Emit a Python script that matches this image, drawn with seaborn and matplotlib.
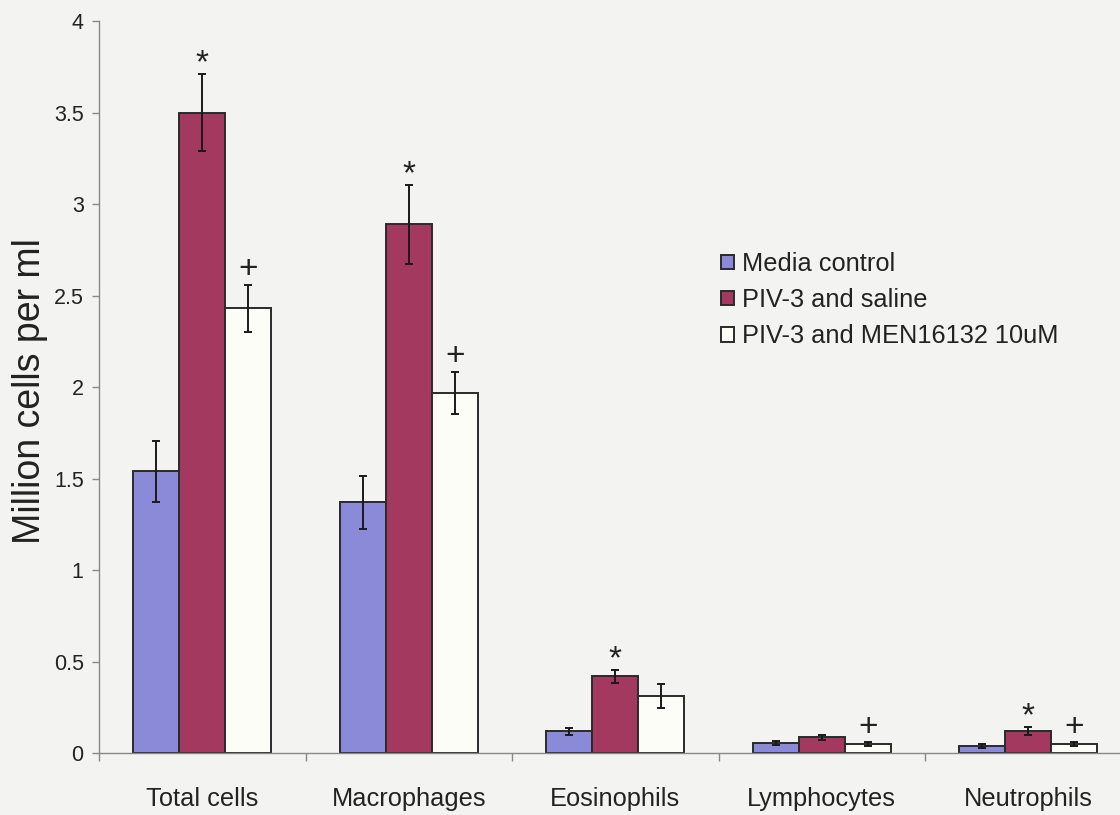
import numpy as np
import pandas as pd
import matplotlib
matplotlib.use("Agg")
import matplotlib.pyplot as plt
import seaborn as sns

# ---------- data ----------
categories = ["Total cells", "Macrophages", "Eosinophils", "Lymphocytes", "Neutrophils"]
groups = ["Media control", "PIV-3 and saline", "PIV-3 and MEN16132 10uM"]

media_mean = [1.54, 1.37, 0.12, 0.055, 0.04]
media_sem = [0.165, 0.145, 0.02, 0.01, 0.01]
saline_mean = [3.50, 2.89, 0.42, 0.087, 0.122]
saline_sem = [0.21, 0.215, 0.035, 0.012, 0.02]
men_mean = [2.43, 1.97, 0.315, 0.05, 0.05]
men_sem = [0.13, 0.115, 0.065, 0.01, 0.01]

saline_marks = ["*", "*", "*", "", "*"]
men_marks = ["+", "+", "", "+", "+"]

colors = ["#8a8ad8", "#a3395f", "#fdfdf8"]
BG = "#f3f3f1"
INK = "#222222"

sns.set_style("ticks")
plt.rcParams["font.family"] = ["Liberation Sans", "DejaVu Sans"]

df = pd.DataFrame({
    "cell": categories * 3,
    "group": [g for g in groups for _ in categories],
    "value": media_mean + saline_mean + men_mean,
})
sems = [media_sem, saline_sem, men_sem]
marks = [[""] * len(categories), saline_marks, men_marks]

fig = plt.figure(figsize=(11.2, 8.15), dpi=100, facecolor=BG)
ax = fig.add_axes([99 / 1120, (815 - 753.3) / 815, 1032.5 / 1120, 732.3 / 815])
ax.set_facecolor(BG)

sns.barplot(data=df, x="cell", y="value", hue="group", order=categories,
            hue_order=groups, palette=colors, width=0.668, gap=0,
            errorbar=None, edgecolor="#2a2a2a", linewidth=1.4, saturation=1,
            ax=ax)

# error bars + significance marks
for cont, s, mk in zip(ax.containers, sems, marks):
    xs = [p.get_x() + p.get_width() / 2 for p in cont.patches]
    hs = [p.get_height() for p in cont.patches]
    ax.errorbar(xs, hs, yerr=s, fmt="none", ecolor="#1a1a1a", elinewidth=1.4,
                capsize=3.2, capthick=1.4, zorder=5)
    for x, h, e, m in zip(xs, hs, s, mk):
        if m == "*":
            ax.annotate(m, (x, h + e), xytext=(0, 1.5), textcoords="offset points",
                        ha="center", va="baseline", fontsize=24, color=INK)
        elif m == "+":
            ax.annotate(m, (x, h + e), xytext=(0, 4.5), textcoords="offset points",
                        ha="center", va="baseline", fontsize=24, color=INK)

ax.set_xlim(-0.5, len(categories) - 0.5)
ax.set_ylim(0, 4)
ax.set_yticks(np.arange(0, 4.01, 0.5))
ax.set_yticklabels(["0", "0.5", "1", "1.5", "2", "2.5", "3", "3.5", "4"])
ax.set_xticks(np.arange(-0.5, len(categories)), minor=True)
ax.tick_params(axis="x", which="major", length=0, pad=24, labelsize=18.3, labelcolor=INK)
ax.tick_params(axis="x", which="minor", length=6, width=1, color="#888888", direction="out")
ax.tick_params(axis="y", length=5, width=1, color="#888888", pad=6, labelsize=15.5,
               labelcolor=INK)
ax.set_xlabel("")
ax.set_ylabel("Million cells per ml", fontsize=27, color=INK, va="baseline")
ax.yaxis.set_label_coords((40 - 99) / 1032.5, 0.495)

sns.despine(ax=ax)
for sp in ["left", "bottom"]:
    ax.spines[sp].set_color("#888888")
    ax.spines[sp].set_linewidth(1)

handles, labels = ax.get_legend_handles_labels()
ax.legend(handles, labels, loc="upper left", bbox_to_anchor=(721 / 1120, (815 - 252) / 815),
          bbox_transform=fig.transFigure, frameon=False, fontsize=18.3,
          handlelength=0.5, handleheight=0.5, handletextpad=0.32, labelspacing=0.48,
          borderpad=0, borderaxespad=0, labelcolor=INK)

fig.savefig("out.png", dpi=100, facecolor=BG)
